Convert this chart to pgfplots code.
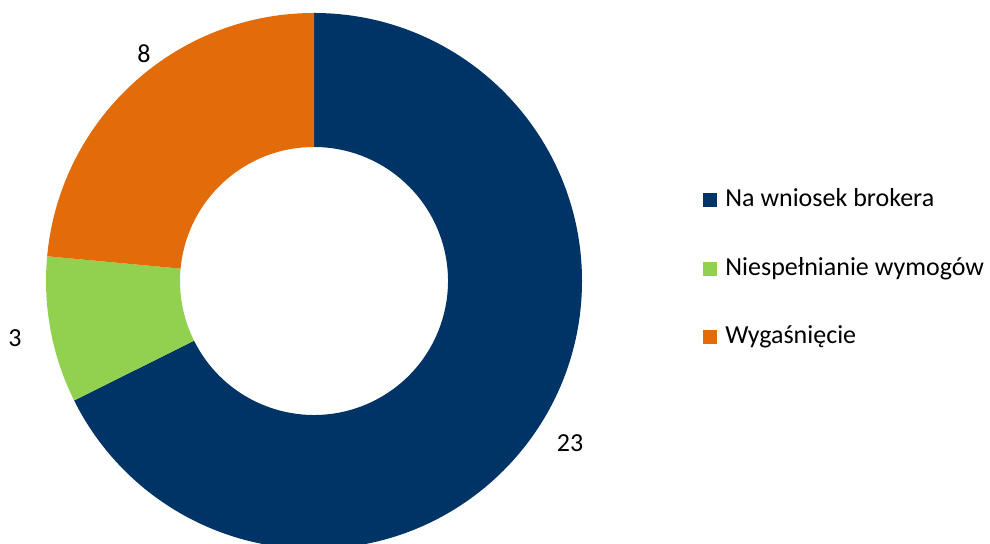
\documentclass[border=0pt]{standalone}
\usepackage{fontspec}
\setmainfont{Carlito}
\usepackage{pgfplots}
\usepackage{pgfplotstable}
\pgfplotsset{compat=1.18}
\usetikzlibrary{calc}

\definecolor{NavyBlue}{RGB}{0,51,102}
\definecolor{LimeGreen}{RGB}{146,208,80}
\definecolor{DeepOrange}{RGB}{227,108,10}

\pgfplotstableread{
label value
{Na wniosek brokera} 23
{Niespełnianie wymogów} 3
{Wygaśnięcie} 8
}\reasons

\begin{document}%
\begin{tikzpicture}[every node/.style={font=\fontsize{13}{15}\selectfont, inner sep=0pt}]
  \pgfplotstablegetelem{0}{value}\of\reasons \let\va\pgfplotsretval
  \pgfplotstablegetelem{1}{value}\of\reasons \let\vb\pgfplotsretval
  \pgfplotstablegetelem{2}{value}\of\reasons \let\vc\pgfplotsretval
  \pgfmathsetmacro\total{\va+\vb+\vc}
  \pgfmathsetmacro\aA{90}
  \pgfmathsetmacro\aB{\aA-360*\va/\total}
  \pgfmathsetmacro\aC{\aB-360*\vb/\total}
  \pgfmathsetmacro\aD{\aC-360*\vc/\total}
  \def\Ro{134pt}
  \def\Ri{67pt}
  \useasboundingbox (0,0) rectangle (495pt,272pt);
  \begin{axis}[
    at={(0,0)}, anchor=south west,
    scale only axis, width=495pt, height=272pt,
    xmin=0, xmax=990, ymin=0, ymax=544,
    hide axis, clip=true,
  ]
    % donut slices, clockwise from 12 o'clock
    \fill[NavyBlue] ($(axis cs:314,263)+(\aA:\Ro)$) arc[start angle=\aA, end angle=\aB, radius=\Ro]
      -- ($(axis cs:314,263)+(\aB:\Ri)$) arc[start angle=\aB, end angle=\aA, radius=\Ri] -- cycle;
    \fill[LimeGreen] ($(axis cs:314,263)+(\aB:\Ro)$) arc[start angle=\aB, end angle=\aC, radius=\Ro]
      -- ($(axis cs:314,263)+(\aC:\Ri)$) arc[start angle=\aC, end angle=\aB, radius=\Ri] -- cycle;
    \fill[DeepOrange] ($(axis cs:314,263)+(\aC:\Ro)$) arc[start angle=\aC, end angle=\aD, radius=\Ro]
      -- ($(axis cs:314,263)+(\aD:\Ri)$) arc[start angle=\aD, end angle=\aC, radius=\Ri] -- cycle;

    % value labels
    \node[anchor=base] at (axis cs:570,92) {\va};
    \node[anchor=base] at (axis cs:15,197) {\vb};
    \node[anchor=base] at (axis cs:144,481) {\vc};

    % legend
    \fill[NavyBlue]   (axis cs:703,337) rectangle (axis cs:717,351);
    \fill[LimeGreen]  (axis cs:703,268) rectangle (axis cs:717,282);
    \fill[DeepOrange] (axis cs:703,200) rectangle (axis cs:717,214);
    \node[anchor=base west] at (axis cs:725,337) {Na wniosek brokera};
    \node[anchor=base west] at (axis cs:725,268) {Niespełnianie wymogów};
    \node[anchor=base west] at (axis cs:725,200) {Wygaśnięcie};
  \end{axis}
\end{tikzpicture}%
\end{document}
